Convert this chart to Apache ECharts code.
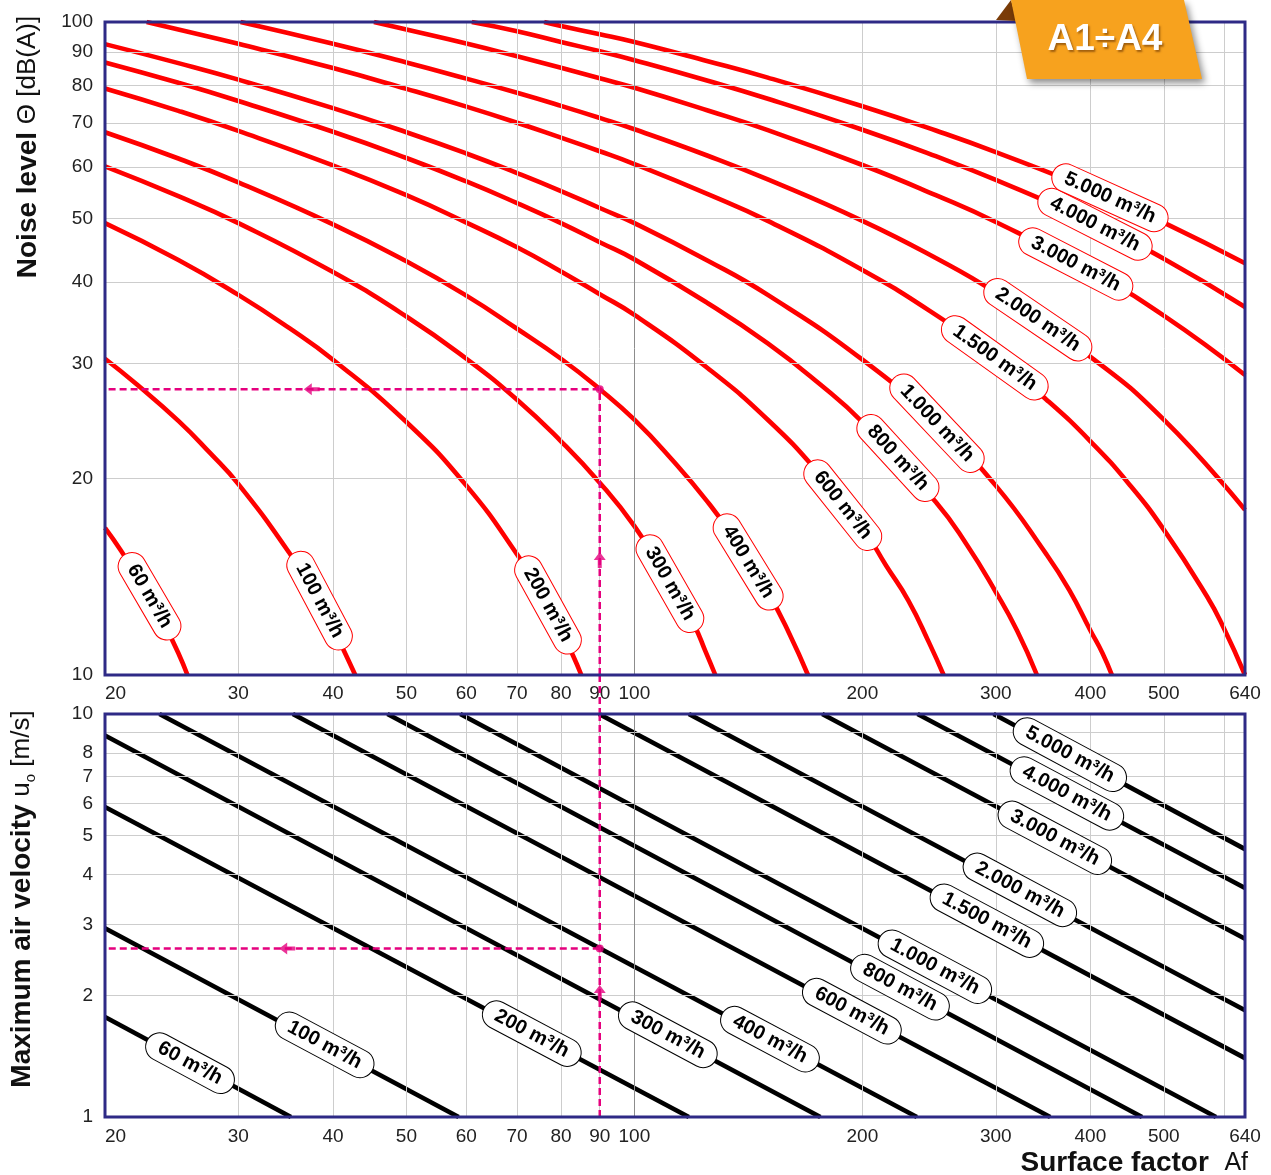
<!DOCTYPE html>
<html>
<head>
<meta charset="utf-8">
<title>A1÷A4 – noise level and air velocity</title>
<style>
  html, body { margin: 0; padding: 0; background: #ffffff; }
  #chart { width: 1271px; height: 1175px; }
</style>
<script src="https://cdn.jsdelivr.net/npm/echarts@6.0.0/dist/echarts.min.js"></script>
</head>
<body>
<div id="chart"></div>
<script>
// ---------- axis ticks ----------
const afTicks = [20, 30, 40, 50, 60, 70, 80, 90, 100, 200, 300, 400, 500, 640];
const afGridLines = [30, 40, 50, 60, 70, 80, 90, 200, 300, 400, 500, 600];
const afMajorLine = 100;
const noiseTicks = [10, 20, 30, 40, 50, 60, 70, 80, 90, 100];
const noiseGridLines = [20, 30, 40, 50, 60, 70, 80, 90];
const velocityTicks = [1, 2, 3, 4, 5, 6, 7, 8, 10];
const velocityGridLines = [2, 3, 4, 5, 6, 7, 8, 9];

// ---------- air flow rates ----------
const flowNames = ['60 m³/h', '100 m³/h', '200 m³/h', '300 m³/h', '400 m³/h', '600 m³/h',
  '800 m³/h', '1.000 m³/h', '1.500 m³/h', '2.000 m³/h', '3.000 m³/h', '4.000 m³/h', '5.000 m³/h'];

// ---------- noise level [dB(A)] vs surface factor Af ----------
const noise60 = [[20, 16.8], [21, 15.5], [22, 14.2], [23, 13.0], [24, 11.9], [25, 10.8], [25.7, 10]];
const noise100 = [[20, 30.5], [22, 27.9], [25, 24.5], [27.5, 21.9], [30, 19.6], [35, 15.4], [38, 13.2], [40, 11.8], [41.5, 10.8], [42.8, 10]];
const noise200 = [[20, 49.2], [25, 43.2], [30, 38.2], [35, 34.0], [40, 30.4], [50, 24.4], [60, 19.5], [70, 15.3], [75, 13.4], [80, 11.7], [83, 10.7], [85.1, 10]];
const noise300 = [[20, 60.1], [25, 54.1], [30, 49.2], [40, 41.4], [50, 35.4], [60, 30.5], [70, 26.4], [80, 22.8], [90, 19.7], [100, 16.9], [110, 14.2], [120, 11.9], [124, 10.9], [127.9, 10]];
const noise400 = [[20, 67.8], [25, 61.8], [30, 56.8], [40, 49.0], [50, 43.0], [60, 38.1], [70, 33.9], [80, 30.5], [90, 27.4], [100, 24.6], [112, 21.4], [125, 18.4], [137, 15.9], [150, 13.4], [160, 11.6], [169.5, 10]];
const noise600 = [[20, 79.1], [25, 73.1], [30, 68.1], [40, 60.3], [50, 54.3], [60, 49.3], [70, 45.2], [80, 41.5], [90, 38.3], [100, 35.6], [125, 29.5], [150, 24.6], [175, 20.4], [200, 16.8], [215, 14.7], [230, 13.0], [245, 11.2], [256, 10]];
const noise800 = [[20, 86.7], [25, 80.7], [30, 75.7], [40, 67.9], [50, 61.9], [60, 57.0], [70, 52.8], [80, 49.2], [90, 46.0], [100, 43.3], [125, 37.1], [150, 32.2], [175, 28.0], [200, 24.4], [250, 18.4], [275, 15.8], [300, 13.4], [320, 11.7], [340, 10]];
const noise1000 = [[20, 92.5], [25, 86.5], [30, 81.6], [40, 73.8], [50, 67.8], [60, 62.9], [70, 58.7], [80, 55.1], [90, 51.9], [100, 49.2], [125, 43.1], [150, 38.2], [200, 30.4], [250, 24.4], [300, 19.5], [350, 15.3], [375, 13.5], [400, 11.7], [415, 10.8], [427, 10]];
const noise1500 = [[22.7, 100], [25, 97.4], [30, 92.6], [40, 85.0], [50, 79.0], [60, 74.2], [70, 70.1], [80, 66.5], [90, 63.4], [100, 60.6], [125, 54.5], [150, 49.6], [200, 41.7], [250, 35.6], [300, 30.6], [350, 26.4], [400, 22.8], [450, 19.6], [500, 16.7], [570, 13.2], [600, 11.8], [640, 10]];
const noise2000 = [[30.2, 100], [40, 92.6], [50, 86.7], [60, 81.9], [70, 77.9], [80, 74.4], [90, 71.3], [100, 68.5], [125, 62.4], [150, 57.4], [200, 49.6], [250, 43.5], [300, 38.5], [400, 30.7], [500, 24.6], [640, 17.9]];
const noise3000 = [[45.3, 100], [50, 97.4], [60, 92.7], [70, 88.6], [80, 85.1], [90, 82.0], [100, 79.3], [125, 73.2], [150, 68.3], [200, 60.4], [250, 54.3], [300, 49.4], [400, 41.6], [500, 35.5], [640, 28.8]];
const noise4000 = [[61, 100], [70, 96.8], [80, 93.2], [90, 90.2], [100, 87.4], [125, 81.3], [150, 76.3], [200, 68.4], [250, 62.3], [300, 57.3], [400, 49.5], [500, 43.4], [640, 36.6]];
const noise5000 = [[76, 100], [80, 98.6], [90, 95.8], [100, 93.2], [125, 87.1], [150, 82.2], [200, 74.3], [250, 68.2], [300, 63.2], [400, 55.4], [500, 49.3], [640, 42.7]];

// ---------- maximum air velocity u0 [m/s] vs surface factor Af ----------
const velocity60 = [[20, 1.77], [35.2, 1]];
const velocity100 = [[20, 2.94], [58.6, 1]];
const velocity200 = [[20, 5.88], [118, 1]];
const velocity300 = [[20, 8.84], [176, 1]];
const velocity400 = [[23.6, 10], [236, 1]];
const velocity600 = [[35.4, 10], [354, 1]];
const velocity800 = [[47.2, 10], [468, 1]];
const velocity1000 = [[58.9, 10], [586, 1]];
const velocity1500 = [[89.8, 10], [640, 1.40]];
const velocity2000 = [[118, 10], [640, 1.84]];
const velocity3000 = [[177, 10], [640, 2.77]];
const velocity4000 = [[236.5, 10], [640, 3.70]];
const velocity5000 = [[298, 10], [640, 4.62]];

// ---------- curve tags (where each flow-rate name sits on its curve) ----------
const noiseTagAt = [[22.9, 13.2], [38.4, 13.0], [76.9, 12.8], [111.4, 13.8], [141.3, 14.9], [188.4, 18.2],
  [222.8, 21.5], [250.9, 24.3], [299.1, 30.6], [340.9, 35.0], [382.6, 42.6], [405.6, 49.0], [424.5, 53.8]];
const velocityTagAt = [[25.9, 1.36], [39.0, 1.51], [73.2, 1.61], [110.7, 1.60], [151, 1.56], [193.7, 1.83],
  [224.2, 2.10], [249.3, 2.36], [292, 3.07], [322.8, 3.66], [359, 4.93], [372.4, 6.35], [375.8, 7.93]];

// ---------- worked example: Af = 90 ----------
const exampleAf = 90;
const exampleNoise = 27.4;
const exampleVelocity = 2.62;
const noiseArrows = [[90, 15.0, 0], [37.5, 27.4, 90]];        // [Af, value, rotation]
const velocityArrows = [[90, 2.03, 0], [34.8, 2.62, 90]];

const noiseCurves = [noise60, noise100, noise200, noise300, noise400, noise600, noise800,
  noise1000, noise1500, noise2000, noise3000, noise4000, noise5000];
const velocityLines = [velocity60, velocity100, velocity200, velocity300, velocity400, velocity600,
  velocity800, velocity1000, velocity1500, velocity2000, velocity3000, velocity4000, velocity5000];

const FONT = '"Liberation Sans", Arial, Helvetica, sans-serif';
const NAVY = '#2e2a86';
const RED = '#ff0000';
const MAGENTA = '#e5007e';
const TEXT = '#000000';
const ARROW = 'path://M6,0 L12,8 L8,8 L8,16 L4,16 L4,8 L0,8 Z';

const chart = echarts.init(document.getElementById('chart'), null, { renderer: 'canvas' });

function gridLines(gi, xs, ys) {
  return {
    type: 'line', xAxisIndex: gi, yAxisIndex: gi, data: [], silent: true, z: 1,
    markLine: {
      silent: true, symbol: ['none', 'none'], label: { show: false }, animation: false,
      lineStyle: { color: '#cdcdcd', width: 1, type: 'solid' },
      emphasis: { disabled: true },
      data: xs.map(v => ({ xAxis: v }))
        .concat(ys.map(v => ({ yAxis: v })))
        .concat([{ xAxis: afMajorLine, lineStyle: { color: '#8c8c8c', width: 1, type: 'solid' } }])
    }
  };
}

function curveSeries(gi, data, color, smooth) {
  return {
    type: 'line', xAxisIndex: gi, yAxisIndex: gi, data: data, showSymbol: false, symbol: 'none',
    smooth: smooth ? 0.5 : false,
    lineStyle: { color: color, width: 4.6, cap: 'butt' }, silent: true, z: 3
  };
}

function tagSeries(id, gi, at, border) {
  return {
    id: id, type: 'scatter', xAxisIndex: gi, yAxisIndex: gi, symbolSize: 1, silent: true, z: 6,
    itemStyle: { color: '#ffffff', opacity: 1 },
    data: at.map(p => ({ value: p })),
    label: {
      show: true, position: 'inside', formatter: p => flowNames[p.dataIndex],
      fontFamily: FONT, fontWeight: 'bold', fontSize: 20, color: TEXT, opacity: 1,
      textBorderWidth: 0, textBorderColor: 'transparent', textShadowBlur: 0,
      backgroundColor: '#ffffff', borderColor: border, borderWidth: 1, borderRadius: 14,
      padding: [4, 13, 3, 13]
    }
  };
}

function dashed(gi, data) {
  return {
    type: 'line', xAxisIndex: gi, yAxisIndex: gi, data: data, showSymbol: false, symbol: 'none',
    lineStyle: { color: MAGENTA, width: 2.5, type: [7, 4] }, silent: true, z: 7
  };
}

function markers(gi, arrows, dot) {
  return [{
    type: 'scatter', xAxisIndex: gi, yAxisIndex: gi, silent: true, z: 8,
    symbol: ARROW, symbolSize: [12, 16],
    itemStyle: { color: MAGENTA },
    data: arrows.map(a => ({ value: [a[0], a[1]], symbolRotate: a[2] }))
  }, {
    type: 'scatter', xAxisIndex: gi, yAxisIndex: gi, silent: true, z: 8,
    symbol: 'circle', symbolSize: 8, itemStyle: { color: MAGENTA },
    data: [dot]
  }];
}

const xAxisBase = gi => ({
  type: 'log', logBase: 10, gridIndex: gi, min: 20, max: 640,
  axisLine: { show: false }, axisTick: { show: false, customValues: afTicks },
  splitLine: { show: false }, minorTick: { show: false }, minorSplitLine: { show: false },
  axisLabel: {
    customValues: afTicks, fontFamily: FONT, fontSize: 19, color: '#222', margin: gi === 0 ? 9 : 10,
    alignMinLabel: 'left', showMinLabel: true, showMaxLabel: true,
    formatter: v => String(Math.round(v))
  }
});

const yAxisBase = (gi, min, max, ticks) => ({
  type: 'log', logBase: 10, gridIndex: gi, min: min, max: max,
  axisLine: { show: false }, axisTick: { show: false, customValues: ticks },
  splitLine: { show: false }, minorTick: { show: false }, minorSplitLine: { show: false },
  axisLabel: {
    customValues: ticks, fontFamily: FONT, fontSize: 19, color: '#222', margin: 12,
    showMinLabel: true, showMaxLabel: true, formatter: v => String(Math.round(v))
  }
});

const series = [];
series.push(gridLines(0, afGridLines, noiseGridLines));
series.push(gridLines(1, afGridLines, velocityGridLines));
noiseCurves.forEach(d => series.push(curveSeries(0, d, RED, true)));
velocityLines.forEach(d => series.push(curveSeries(1, d, '#000000', false)));
series.push(dashed(0, [[exampleAf, 10], [exampleAf, exampleNoise], [20, exampleNoise]]));
series.push(dashed(1, [[exampleAf, 1], [exampleAf, 10]]));
series.push(dashed(1, [[exampleAf, exampleVelocity], [20, exampleVelocity]]));
series.push(...markers(0, noiseArrows, [exampleAf, exampleNoise]));
series.push(...markers(1, velocityArrows, [exampleAf, exampleVelocity]));
series.push(tagSeries('noiseTags', 0, noiseTagAt, RED));
series.push(tagSeries('velocityTags', 1, velocityTagAt, '#000000'));

chart.setOption({
  animation: false,
  backgroundColor: '#ffffff',
  textStyle: { fontFamily: FONT },
  grid: [
    { left: 105, top: 22, width: 1140, height: 653, show: false },
    { left: 105, top: 714, width: 1140, height: 403, show: false }
  ],
  xAxis: [xAxisBase(0), xAxisBase(1)],
  yAxis: [yAxisBase(0, 10, 100, noiseTicks), yAxisBase(1, 1, 10, velocityTicks)],
  series: series
});

// ---------- second pass: tag angles, frames, connecting line, titles ----------
function tangentDeg(gi, pts, x) {
  let i = 0;
  while (i < pts.length - 2 && pts[i + 1][0] < x) i++;
  const a = chart.convertToPixel({ gridIndex: gi }, pts[i]);
  const b = chart.convertToPixel({ gridIndex: gi }, pts[i + 1]);
  return -Math.atan2(b[1] - a[1], b[0] - a[0]) * 180 / Math.PI;
}

const noiseAngles = noiseTagAt.map((p, i) => tangentDeg(0, noiseCurves[i], p[0]));
const velocityAngles = velocityTagAt.map((p, i) => tangentDeg(1, velocityLines[i], p[0]));

const t0 = chart.convertToPixel({ gridIndex: 0 }, [20, 100]);
const b0 = chart.convertToPixel({ gridIndex: 0 }, [640, 10]);
const t1 = chart.convertToPixel({ gridIndex: 1 }, [20, 10]);
const b1 = chart.convertToPixel({ gridIndex: 1 }, [640, 1]);
const gapTop = chart.convertToPixel({ gridIndex: 0 }, [exampleAf, 10]);
const gapBottom = chart.convertToPixel({ gridIndex: 1 }, [exampleAf, 10]);

chart.setOption({
  series: [
    { id: 'noiseTags', data: noiseTagAt.map((p, i) => ({ value: p, label: { rotate: noiseAngles[i] } })) },
    { id: 'velocityTags', data: velocityTagAt.map((p, i) => ({ value: p, label: { rotate: velocityAngles[i] } })) }
  ],
  graphic: [
    {
      type: 'line', z: 7, silent: true,
      shape: { x1: gapTop[0], y1: gapTop[1], x2: gapBottom[0], y2: gapBottom[1] },
      style: { stroke: MAGENTA, lineWidth: 2.5, lineDash: [7, 4] }
    },
    {
      type: 'rect', z: 40, silent: true,
      shape: { x: t0[0], y: t0[1], width: b0[0] - t0[0], height: b0[1] - t0[1] },
      style: { fill: 'none', stroke: NAVY, lineWidth: 3 }
    },
    {
      type: 'rect', z: 40, silent: true,
      shape: { x: t1[0], y: t1[1], width: b1[0] - t1[0], height: b1[1] - t1[1] },
      style: { fill: 'none', stroke: NAVY, lineWidth: 3 }
    },
    // product range badge
    {
      type: 'polygon', z: 41, silent: true,
      shape: { points: [[996, 20], [1011, 0], [1017, 21]] },
      style: { fill: '#7a3c08' }
    },
    {
      type: 'polygon', z: 42, silent: true,
      shape: { points: [[1011, 0], [1184, 0], [1202, 79], [1027, 79]] },
      style: {
        fill: '#f7a21e', shadowBlur: 7, shadowOffsetX: 3, shadowOffsetY: 4,
        shadowColor: 'rgba(0,0,0,0.45)'
      }
    },
    {
      type: 'text', z: 43, silent: true, x: 1105, y: 40,
      style: {
        text: 'A1÷A4', fill: '#ffffff', fontFamily: FONT, fontWeight: 'bold', fontSize: 37,
        align: 'center', verticalAlign: 'middle',
        textShadowColor: 'rgba(90,40,0,0.55)', textShadowBlur: 2, textShadowOffsetX: 1.5, textShadowOffsetY: 1.5
      }
    },
    // axis titles
    {
      type: 'text', z: 20, silent: true, x: 28, y: 147, rotation: Math.PI / 2,
      style: {
        text: '{b|Noise level }{n|Θ [dB(A)]}', align: 'center', verticalAlign: 'middle',
        rich: {
          b: { fontFamily: FONT, fontWeight: 'bold', fontSize: 28, fill: '#111' },
          n: { fontFamily: FONT, fontSize: 26, fill: '#111' }
        }
      }
    },
    {
      type: 'text', z: 20, silent: true, x: 22, y: 899, rotation: Math.PI / 2,
      style: {
        text: '{b|Maximum air velocity }{n|u}{s|o}{n| [m/s]}', align: 'center', verticalAlign: 'middle',
        rich: {
          b: { fontFamily: FONT, fontWeight: 'bold', fontSize: 28, fill: '#111', lineHeight: 32, verticalAlign: 'middle' },
          n: { fontFamily: FONT, fontSize: 26, fill: '#111', lineHeight: 32, verticalAlign: 'middle' },
          s: { fontFamily: FONT, fontSize: 15, fill: '#111', lineHeight: 32, verticalAlign: 'bottom' }
        }
      }
    },
    {
      type: 'text', z: 20, silent: true, x: 1248, y: 1163,
      style: {
        text: '{b|Surface factor  }{n|Af}', align: 'right', verticalAlign: 'middle',
        rich: {
          b: { fontFamily: FONT, fontWeight: 'bold', fontSize: 28, fill: '#111' },
          n: { fontFamily: FONT, fontSize: 25, fill: '#111' }
        }
      }
    }
  ]
});
</script>
</body>
</html>
